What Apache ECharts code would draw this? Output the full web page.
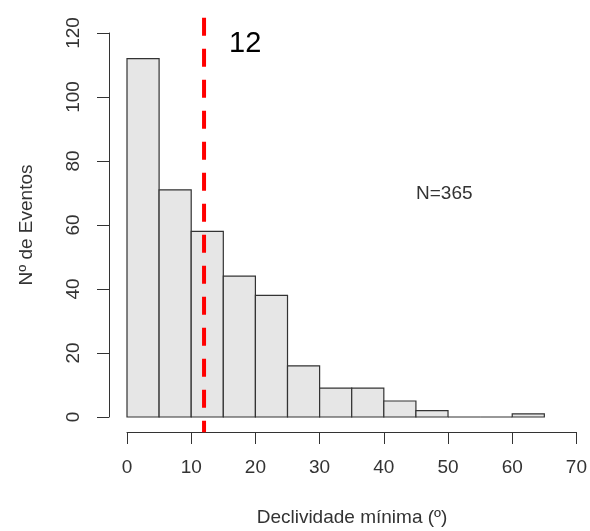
<!DOCTYPE html>
<html>
<head>
<meta charset="utf-8">
<script src="https://cdn.jsdelivr.net/npm/echarts@6/dist/echarts.min.js"></script>
<style>
  html, body { margin: 0; padding: 0; background: #fff; }
  #chart { width: 590px; height: 531px; }
</style>
</head>
<body>
<div id="chart"></div>
<script>
// histogram bins (width 5) and counts
var binStarts = [0, 5, 10, 15, 20, 25, 30, 35, 40, 45, 50, 55, 60];
var binWidth = 5;
var counts = [112, 71, 58, 44, 38, 16, 9, 9, 5, 2, 0, 0, 1];
var xTicks = [0, 10, 20, 30, 40, 50, 60, 70];
var yTicks = [0, 20, 40, 60, 80, 100, 120];
var cutValue = 12;           // red dashed line
var plotYRange = [-4.8, 124.8]; // R plot region (4% extension)

var font = 'Liberation Sans, Arial, sans-serif';

var histData = binStarts.map(function (s, i) {
  return [s, s + binWidth, counts[i]];
});

var chart = echarts.init(document.getElementById('chart'));

var option = {
  animation: false,
  grid: { left: 127, right: 13, top: 33, bottom: 114 },
  xAxis: {
    type: 'value',
    min: xTicks[0],
    max: xTicks[xTicks.length - 1],
    interval: 10,
    offset: 15,
    axisLine: { show: true, onZero: false, lineStyle: { color: '#333', width: 1 } },
    axisTick: { show: true, length: 12, lineStyle: { color: '#333', width: 1 } },
    axisLabel: { fontFamily: font, fontSize: 19, color: '#333', margin: 26 },
    splitLine: { show: false }
  },
  yAxis: {
    type: 'value',
    min: yTicks[0],
    max: yTicks[yTicks.length - 1],
    interval: 20,
    offset: 18,
    axisLine: { show: true, onZero: false, lineStyle: { color: '#333', width: 1 } },
    axisTick: { show: true, length: 12, lineStyle: { color: '#333', width: 1 } },
    axisLabel: { fontFamily: font, fontSize: 19, color: '#333', rotate: 90, margin: 26 },
    splitLine: { show: false }
  },
  series: [
    {
      type: 'custom',
      name: 'hist',
      data: histData,
      renderItem: function (params, api) {
        var p0 = api.coord([api.value(0), api.value(2)]);
        var p1 = api.coord([api.value(1), 0]);
        return {
          type: 'rect',
          shape: { x: p0[0], y: p0[1], width: p1[0] - p0[0], height: p1[1] - p0[1] },
          style: { fill: '#e6e6e6', stroke: '#333', lineWidth: 1.2 }
        };
      }
    },
    {
      type: 'custom',
      name: 'cut',
      clip: false,
      data: [[cutValue]],
      renderItem: function (params, api) {
        var top = api.coord([api.value(0), plotYRange[1]]);
        var bot = api.coord([api.value(0), plotYRange[0]]);
        return {
          type: 'line',
          shape: { x1: top[0], y1: top[1], x2: bot[0], y2: bot[1] },
          style: { stroke: '#ff0000', lineWidth: 4, lineDash: [18, 13] }
        };
      }
    }
  ],
  graphic: [
    {
      type: 'text', left: 229, top: 29,
      style: { text: '12', font: '29px ' + font, fill: '#000' }
    },
    {
      type: 'text', left: 416, top: 184,
      style: { text: 'N=365', font: '19px ' + font, fill: '#333' }
    },
    {
      type: 'text', x: 352, y: 518,
      style: { text: 'Declividade mínima (º)', font: '19px ' + font, fill: '#333',
               align: 'center', verticalAlign: 'middle' }
    },
    {
      type: 'text', x: 27, y: 225, rotation: Math.PI / 2,
      style: { text: 'Nº de Eventos', font: '19px ' + font, fill: '#333',
               align: 'center', verticalAlign: 'middle' }
    }
  ]
};

chart.setOption(option);
</script>
</body>
</html>
